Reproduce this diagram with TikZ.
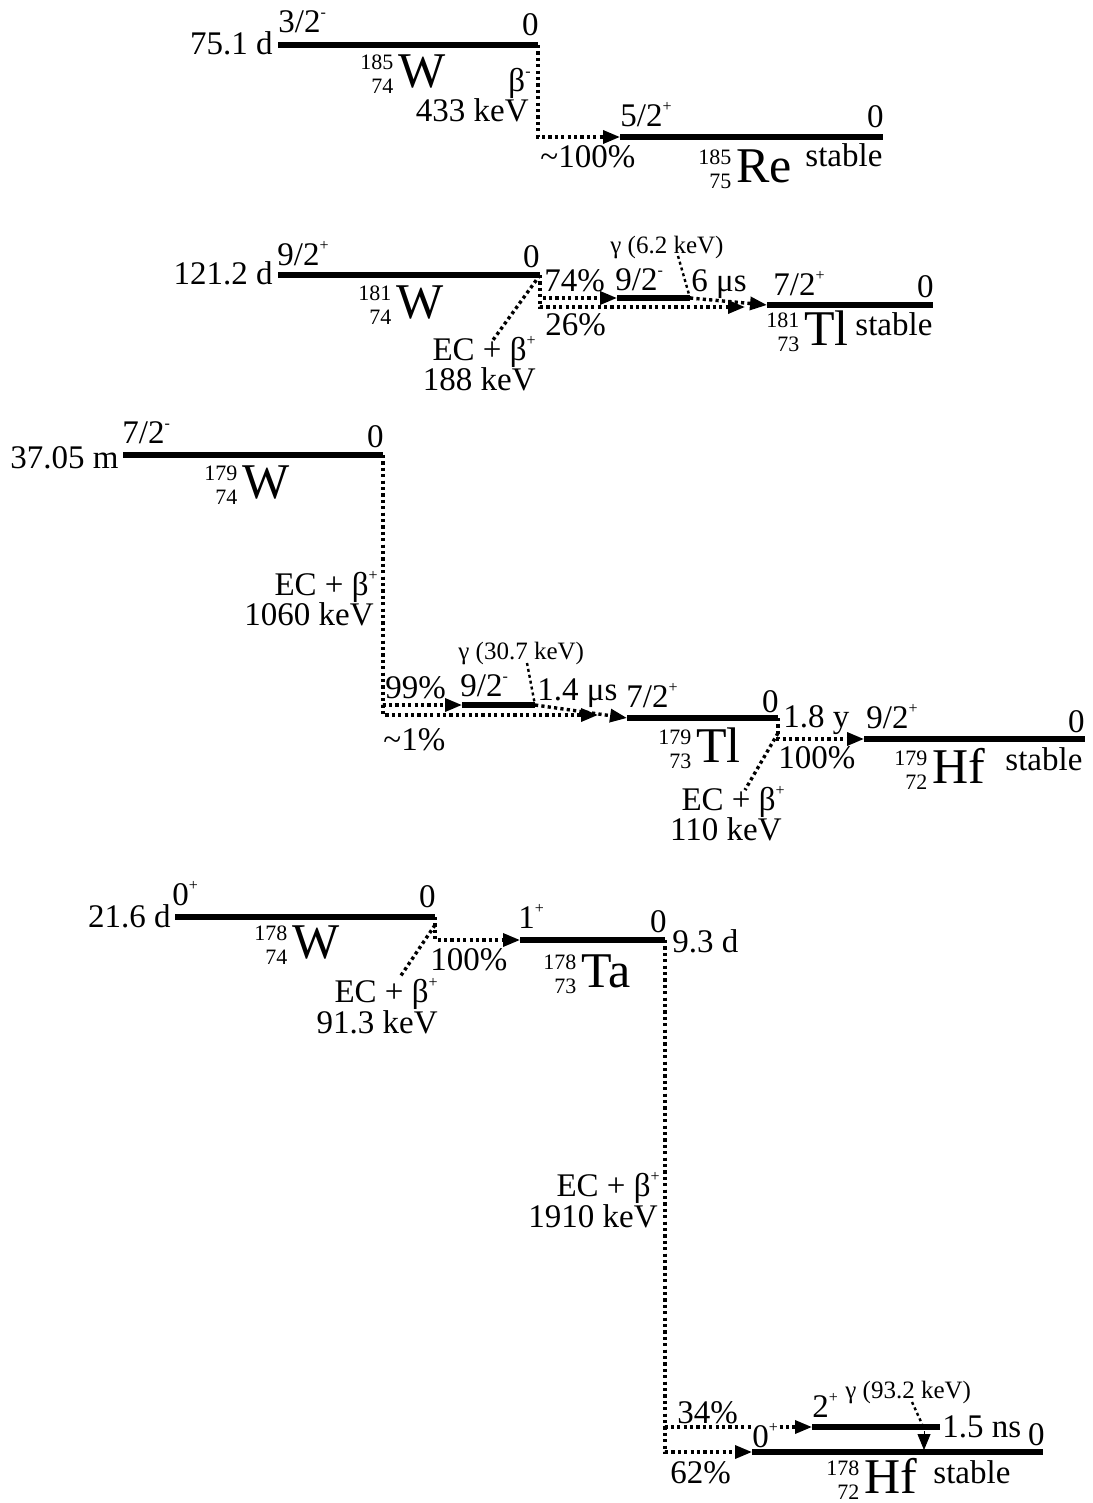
\documentclass[tikz,border=0pt]{standalone}
\usepackage{fontspec}
\setmainfont{Liberation Serif}
\usetikzlibrary{arrows.meta}
\newcommand{\nuc}[3]{\raisebox{-3pt}{\fontsize{11}{12}\selectfont\begin{tabular}[b]{@{}r@{}}#1\\#2\end{tabular}}\kern2.5pt{\fontsize{25}{25}\selectfont #3}}
\newcommand{\sps}[1]{\raisebox{7.5pt}{\fontsize{8}{8}\selectfont #1}}
\begin{document}
\begin{tikzpicture}[x=0.5pt, y=-0.5pt,
    level/.style={line width=3.2pt},
    decay/.style={line width=1.7pt, dash pattern=on 1.6pt off 1.6pt},
    gline/.style={line width=1.2pt, dash pattern=on 1.5pt off 1.5pt},
    tip/.style={-{Triangle[length=8.5pt,width=6.5pt]}},
    lbl/.style={font=\fontsize{16.5}{18}\selectfont, inner sep=0pt},
    small/.style={font=\fontsize{12.5}{14}\selectfont, inner sep=0pt},
    nucl/.style={inner sep=0pt}]
    \useasboundingbox (0,0) rectangle (1092,1503);

    % W-185 -> Re-185
    \coordinate (w185a) at (278,45);
    \coordinate (w185b) at (538,45);
    \coordinate (re185a) at (620,137);
    \coordinate (re185b) at (883,137);
    \draw[level] (w185a) -- (w185b);
    \draw[level] (re185a) -- (re185b);
    \draw[decay,tip] (w185b) |- (re185a);
    \node[lbl, anchor=base east] (hl185) at (273,55) {75.1 d};
    \node[lbl, anchor=base west] (sp185) at (278,33) {3/2\sps{-}};
    \node[lbl, anchor=base east] (en185) at (539,36) {0};
    \node[nucl, anchor=base west] (nw185) at (360,88) {\nuc{185}{74}{W}};
    \node[lbl, anchor=base east] (bm185) at (531,92) {β\sps{-}};
    \node[lbl, anchor=base east] (q185) at (529,122) {433 keV};
    \node[lbl, anchor=base west] (br185) at (540,168) {\textasciitilde100\%};
    \node[lbl, anchor=base west] (spre) at (620,127) {5/2\sps{+}};
    \node[lbl, anchor=base east] (enre) at (884,128) {0};
    \node[nucl, anchor=base west] (nre) at (698,183) {\nuc{185}{75}{Re}};
    \node[lbl, anchor=base west] (stre) at (805,167) {stable};

    % W-181 -> Tl-181
    \coordinate (w181a) at (278,275);
    \coordinate (w181b) at (540,275);
    \coordinate (m181a) at (617,298);
    \coordinate (m181b) at (690,298);
    \coordinate (tl181a) at (767,305);
    \coordinate (tl181b) at (933,305);
    \coordinate (d181) at (745,307);
    \coordinate (ec181) at (493,340);
    \coordinate (g181) at (678,256);
    \draw[level] (w181a) -- (w181b);
    \draw[level] (m181a) -- (m181b);
    \draw[level] (tl181a) -- (tl181b);
    \draw[decay,tip] (w181b) |- (m181a);
    \draw[decay,tip] (w181b) |- (d181);
    \draw[decay,tip] (m181b) -- (tl181a);
    \draw[decay] (w181b) -- (ec181);
    \draw[gline] (g181) -- (m181b);
    \node[lbl, anchor=base east] (hl181) at (273,285) {121.2 d};
    \node[lbl, anchor=base west] (sp181) at (277,265) {9/2\sps{+}};
    \node[lbl, anchor=base east] (en181) at (540,267) {0};
    \node[nucl, anchor=base west] (nw181) at (358,318) {\nuc{181}{74}{W}};
    \node[lbl, anchor=base west] (p74) at (544,291) {74\%};
    \node[lbl, anchor=base west] (p26) at (545,335) {26\%};
    \node[lbl, anchor=base west] (spm181) at (615,290) {9/2\sps{-}};
    \node[small, anchor=base west] (gam181) at (610,254) {γ (6.2 keV)};
    \node[lbl, anchor=base west] (hm181) at (691,292) {6 μs};
    \node[lbl, anchor=base west] (sptl181) at (773,295) {7/2\sps{+}};
    \node[lbl, anchor=base east] (entl181) at (934,297) {0};
    \node[nucl, anchor=base west] (ntl181) at (766,345) {\nuc{181}{73}{Tl}};
    \node[lbl, anchor=base west] (sttl181) at (855,335) {stable};
    \node[lbl, anchor=base east] (ecl181) at (536,360) {EC + β\sps{+}};
    \node[lbl, anchor=base east] (q181) at (536,390) {188 keV};

    % W-179 -> Tl-179 -> Hf-179
    \coordinate (w179a) at (123,455);
    \coordinate (w179b) at (383,455);
    \coordinate (m179a) at (462,705);
    \coordinate (m179b) at (535,705);
    \coordinate (tl179a) at (627,718);
    \coordinate (tl179b) at (778,718);
    \coordinate (hf179a) at (864,739);
    \coordinate (hf179b) at (1085,739);
    \coordinate (d179) at (598,715);
    \coordinate (g179) at (527,663);
    \coordinate (ec179) at (745,790);
    \draw[level] (w179a) -- (w179b);
    \draw[level] (m179a) -- (m179b);
    \draw[level] (tl179a) -- (tl179b);
    \draw[level] (hf179a) -- (hf179b);
    \draw[decay,tip] (w179b) |- (m179a);
    \draw[decay,tip] (w179b) |- (d179);
    \draw[decay,tip] (m179b) -- (tl179a);
    \draw[gline] (g179) -- (m179b);
    \draw[decay,tip] (tl179b) |- (hf179a);
    \draw[decay] (tl179b) ++(0,15) -- (ec179);
    \node[lbl, anchor=base east] (hl179) at (119,468) {37.05 m};
    \node[lbl, anchor=base west] (sp179) at (122,443) {7/2\sps{-}};
    \node[lbl, anchor=base east] (en179) at (384,447) {0};
    \node[nucl, anchor=base west] (nw179) at (204,498) {\nuc{179}{74}{W}};
    \node[lbl, anchor=base east] (ecl179) at (378,595) {EC + β\sps{+}};
    \node[lbl, anchor=base east] (q179) at (374,625) {1060 keV};
    \node[lbl, anchor=base west] (p99) at (385,698) {99\%};
    \node[lbl, anchor=base west] (p1) at (383,750) {\textasciitilde1\%};
    \node[small, anchor=base west] (gam179) at (458,659) {γ (30.7 keV)};
    \node[lbl, anchor=base west] (spm179) at (460,696) {9/2\sps{-}};
    \node[lbl, anchor=base west] (hm179) at (537,700) {1.4 μs};
    \node[lbl, anchor=base west] (sptl179) at (626,707) {7/2\sps{+}};
    \node[lbl, anchor=base east] (entl179) at (779,712) {0};
    \node[nucl, anchor=base west] (ntl179) at (658,762) {\nuc{179}{73}{Tl}};
    \node[lbl, anchor=base west] (hltl179) at (783,727) {1.8 y};
    \node[lbl, anchor=base west] (p100b) at (778,768) {100\%};
    \node[lbl, anchor=base east] (ecl179b) at (785,810) {EC + β\sps{+}};
    \node[lbl, anchor=base east] (q179b) at (782,840) {110 keV};
    \node[lbl, anchor=base west] (sphf179) at (866,728) {9/2\sps{+}};
    \node[lbl, anchor=base east] (enhf179) at (1085,732) {0};
    \node[nucl, anchor=base west] (nhf179) at (894,783) {\nuc{179}{72}{Hf}};
    \node[lbl, anchor=base west] (sthf179) at (1005,770) {stable};

    % W-178 -> Ta-178 -> Hf-178
    \coordinate (w178a) at (175,917);
    \coordinate (w178b) at (435,917);
    \coordinate (ta178a) at (520,940);
    \coordinate (ta178b) at (665,940);
    \coordinate (hx178a) at (812,1427);
    \coordinate (hx178b) at (940,1427);
    \coordinate (hf178a) at (752,1452);
    \coordinate (hf178b) at (1043,1452);
    \coordinate (ec178) at (400,977);
    \coordinate (g178) at (912,1402);
    \draw[level] (w178a) -- (w178b);
    \draw[level] (ta178a) -- (ta178b);
    \draw[level] (hx178a) -- (hx178b);
    \draw[level] (hf178a) -- (hf178b);
    \draw[decay,tip] (w178b) |- (ta178a);
    \draw[decay] (w178b) ++(0,8) -- (ec178);
    \draw[decay,tip] (ta178b) |- (hx178a);
    \draw[decay,tip] (ta178b) |- (hf178a);
    \draw[gline] (g178) -- (922,1424);
    \draw[-{Triangle[length=8pt,width=6.5pt]}, line width=0.4pt] (924,1431) -- (924,1450);
    \node[lbl, anchor=base east] (hl178) at (171,927) {21.6 d};
    \node[lbl, anchor=base west] (sp178) at (172,905) {0\sps{+}};
    \node[lbl, anchor=base east] (en178) at (436,907) {0};
    \node[nucl, anchor=base west] (nw178) at (254,958) {\nuc{178}{74}{W}};
    \node[lbl, anchor=base west] (p100c) at (430,970) {100\%};
    \node[lbl, anchor=base east] (ecl178) at (438,1002) {EC + β\sps{+}};
    \node[lbl, anchor=base east] (q178) at (438,1033) {91.3 keV};
    \node[lbl, anchor=base west] (spta) at (518,928) {1\sps{+}};
    \node[lbl, anchor=base east] (enta) at (667,932) {0};
    \node[lbl, anchor=base west] (hlta) at (672,952) {9.3 d};
    \node[nucl, anchor=base west] (nta) at (543,987) {\nuc{178}{73}{Ta}};
    \node[lbl, anchor=base east] (ecl178b) at (660,1196) {EC + β\sps{+}};
    \node[lbl, anchor=base east] (q178b) at (658,1227) {1910 keV};
    \node[lbl, anchor=base west] (p34) at (677,1423) {34\%};
    \node[lbl, anchor=base west] (p62) at (670,1483) {62\%};
    \node[lbl, anchor=base west, fill=white] (sp0hf) at (752,1447) {0\sps{+}};
    \node[lbl, anchor=base west] (sp2hf) at (812,1417) {2\sps{+}};
    \node[small, anchor=base west] (gam178) at (845,1398) {γ (93.2 keV)};
    \node[lbl, anchor=base west] (hx178) at (942,1437) {1.5 ns};
    \node[lbl, anchor=base east] (enhf178) at (1045,1445) {0};
    \node[nucl, anchor=base west] (nhf178) at (826,1493) {\nuc{178}{72}{Hf}};
    \node[lbl, anchor=base west] (sthf178) at (933,1483) {stable};
\end{tikzpicture}
\end{document}
